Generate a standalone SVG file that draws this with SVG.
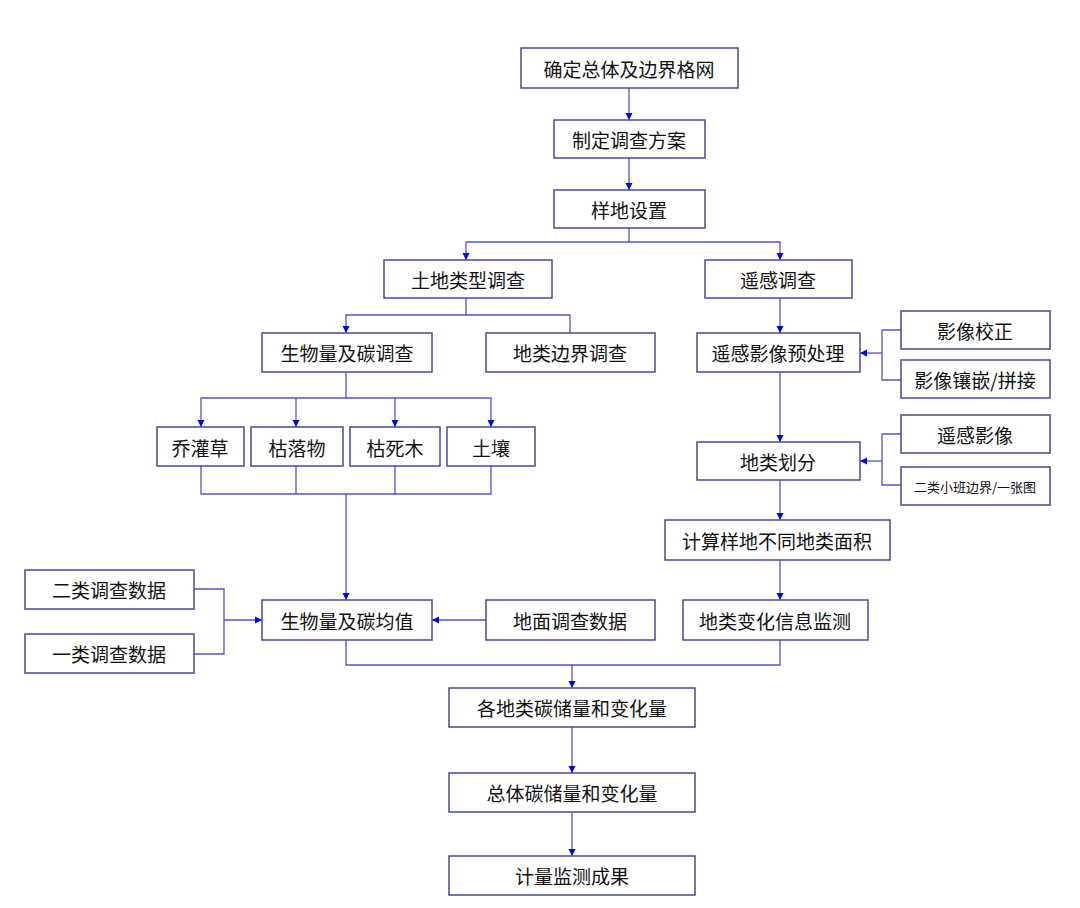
<svg xmlns="http://www.w3.org/2000/svg" width="1080" height="908" viewBox="0 0 1080 908">
<style>
rect{fill:#fff;stroke:#4a4a9a;stroke-width:1.5}
text{font-family:"Noto Sans CJK SC","Liberation Sans",sans-serif;font-size:19px;fill:#111;text-anchor:middle;dominant-baseline:central}
.s{font-size:13px}
#c path{fill:none;stroke:#5555c0;stroke-width:1.3}
</style>
<defs><marker id="a" viewBox="0 0 10 10" refX="10" refY="5" markerWidth="7" markerHeight="8" orient="auto" markerUnits="userSpaceOnUse"><path d="M0,0L10,5L0,10z" fill="#0000ee"/></marker></defs>
<rect x="0" y="0" width="1080" height="908" style="stroke:none"/>
<g id="c">
<path d="M629,88V120" marker-end="url(#a)"/>
<path d="M629,158V190" marker-end="url(#a)"/>
<path d="M629,228V242H466V260" marker-end="url(#a)"/>
<path d="M629,242H780V260" marker-end="url(#a)"/>
<path d="M466,298V315H346V333" marker-end="url(#a)"/>
<path d="M466,315H570V333"/>
<path d="M780,298V333" marker-end="url(#a)"/>
<path d="M346,372V398H201V427" marker-end="url(#a)"/>
<path d="M296,398V427" marker-end="url(#a)"/>
<path d="M395,398V427" marker-end="url(#a)"/>
<path d="M346,398H491V427" marker-end="url(#a)"/>
<path d="M201,466V494H491V466M296,466V494M395,466V494M346,494V600" marker-end="url(#a)"/>
<path d="M1050,330H882V380H901M901,330" />
<path d="M882,353H860" marker-end="url(#a)"/>
<path d="M780,372V442" marker-end="url(#a)"/>
<path d="M901,434H882V485H901"/>
<path d="M882,461H860" marker-end="url(#a)"/>
<path d="M780,480V520" marker-end="url(#a)"/>
<path d="M780,560V600" marker-end="url(#a)"/>
<path d="M194,589H224V654H194M224,620H262" marker-end="url(#a)"/>
<path d="M486,620H432" marker-end="url(#a)"/>
<path d="M346,640V665H572V688" marker-end="url(#a)"/>
<path d="M780,640V665H572"/>
<path d="M572,727V773" marker-end="url(#a)"/>
<path d="M572,812V856" marker-end="url(#a)"/>
</g>
<g id="n1"><rect x="521" y="48" width="217" height="40"/><text x="629" y="68">确定总体及边界格网</text></g>
<g id="n2"><rect x="554" y="120" width="151" height="38"/><text x="629" y="139">制定调查方案</text></g>
<g id="n3"><rect x="554" y="190" width="151" height="38"/><text x="629" y="209">样地设置</text></g>
<g id="n4"><rect x="384" y="260" width="168" height="38"/><text x="468" y="279">土地类型调查</text></g>
<g id="n5"><rect x="705" y="260" width="147" height="38"/><text x="778" y="279">遥感调查</text></g>
<g id="n6"><rect x="262" y="333" width="170" height="39"/><text x="347" y="352">生物量及碳调查</text></g>
<g id="n7"><rect x="486" y="333" width="169" height="39"/><text x="570" y="352">地类边界调查</text></g>
<g id="n8"><rect x="697" y="333" width="163" height="39"/><text x="778" y="352">遥感影像预处理</text></g>
<g id="n9"><rect x="901" y="311" width="149" height="38"/><text x="975" y="330">影像校正</text></g>
<g id="n10"><rect x="901" y="360" width="149" height="38"/><text x="975" y="379">影像镶嵌/拼接</text></g>
<g id="n11"><rect x="157" y="427" width="87" height="39"/><text x="200" y="447">乔灌草</text></g>
<g id="n12"><rect x="251" y="427" width="92" height="39"/><text x="297" y="447">枯落物</text></g>
<g id="n13"><rect x="350" y="427" width="90" height="39"/><text x="395" y="447">枯死木</text></g>
<g id="n14"><rect x="447" y="427" width="88" height="39"/><text x="491" y="447">土壤</text></g>
<g id="n15"><rect x="697" y="442" width="163" height="38"/><text x="778" y="461">地类划分</text></g>
<g id="n16"><rect x="901" y="415" width="149" height="38"/><text x="975" y="434">遥感影像</text></g>
<g id="n17"><rect x="901" y="467" width="149" height="38"/><text class="s" x="975" y="486">二类小班边界/一张图</text></g>
<g id="n18"><rect x="665" y="520" width="225" height="40"/><text x="777" y="540">计算样地不同地类面积</text></g>
<g id="n19"><rect x="25" y="570" width="169" height="39"/><text x="109" y="589">二类调查数据</text></g>
<g id="n20"><rect x="25" y="634" width="169" height="39"/><text x="109" y="653">一类调查数据</text></g>
<g id="n21"><rect x="262" y="600" width="170" height="40"/><text x="347" y="620">生物量及碳均值</text></g>
<g id="n22"><rect x="486" y="600" width="169" height="40"/><text x="570" y="620">地面调查数据</text></g>
<g id="n23"><rect x="683" y="600" width="185" height="40"/><text x="775" y="620">地类变化信息监测</text></g>
<g id="n24"><rect x="449" y="688" width="246" height="39"/><text x="572" y="707">各地类碳储量和变化量</text></g>
<g id="n25"><rect x="449" y="773" width="246" height="39"/><text x="572" y="792">总体碳储量和变化量</text></g>
<g id="n26"><rect x="449" y="856" width="246" height="39"/><text x="572" y="875">计量监测成果</text></g>
</svg>
